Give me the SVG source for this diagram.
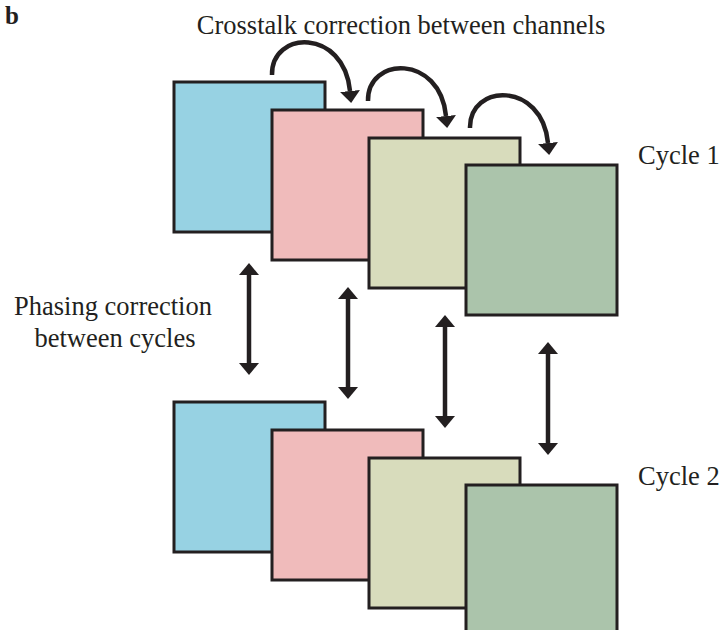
<svg xmlns="http://www.w3.org/2000/svg" width="726" height="630" viewBox="0 0 726 630">
  <defs>
    <style>
      .sq { stroke: #231f20; stroke-width: 3; }
      .blue { fill: #97d2e3; }
      .pink { fill: #f0bbbb; }
      .beige { fill: #d8dcbc; }
      .green { fill: #abc4ab; }
      .conn { fill: none; stroke: #231f20; stroke-width: 4.5; }
      .lbl { font-family: "Liberation Serif", "Times New Roman", serif; font-size: 26.5px; fill: #231f20; }
    </style>
    <marker id="ah" markerUnits="userSpaceOnUse" viewBox="0 -10 12 20" refX="0" refY="0" markerWidth="12" markerHeight="20" orient="auto-start-reverse">
      <path d="M0,-10 L12,0 L0,10 Z" fill="#231f20"/>
    </marker>
  </defs>
  <rect width="726" height="630" fill="#ffffff"/>

  <text class="lbl" x="5" y="24" font-weight="bold" style="font-size:25px">b</text>

  <g id="cycle1">
    <g id="c1-blue"><rect class="sq blue" x="174" y="82" width="151" height="150"/></g>
    <g id="c1-pink"><rect class="sq pink" x="272" y="110" width="151" height="150"/></g>
    <g id="c1-beige"><rect class="sq beige" x="369" y="138" width="151" height="150"/></g>
    <g id="c1-green"><rect class="sq green" x="466" y="165" width="151" height="150"/></g>
  </g>

  <g id="cycle2">
    <g id="c2-blue"><rect class="sq blue" x="174" y="402" width="151" height="150"/></g>
    <g id="c2-pink"><rect class="sq pink" x="272" y="430" width="151" height="150"/></g>
    <g id="c2-beige"><rect class="sq beige" x="369" y="458" width="151" height="150"/></g>
    <g id="c2-green"><rect class="sq green" x="466" y="485" width="151" height="150"/></g>
  </g>

  <g id="connectors">
    <path class="conn" d="M272,75 C271,30 344,28 350,91" marker-end="url(#ah)"/>
    <path class="conn" d="M368,101 C367,56 440,54 446,116" marker-end="url(#ah)"/>
    <path class="conn" d="M470,128 C469,83 542,81 548,143" marker-end="url(#ah)"/>

    <path class="conn" d="M249,275 L249,363" marker-start="url(#ah)" marker-end="url(#ah)"/>
    <path class="conn" d="M348,299 L348,387" marker-start="url(#ah)" marker-end="url(#ah)"/>
    <path class="conn" d="M445,327 L445,416" marker-start="url(#ah)" marker-end="url(#ah)"/>
    <path class="conn" d="M548,354 L548,443" marker-start="url(#ah)" marker-end="url(#ah)"/>
  </g>

  <g id="labels">
    <text class="lbl" x="401" y="34" text-anchor="middle">Crosstalk correction between channels</text>
    <text class="lbl" x="113" y="315" text-anchor="middle">Phasing correction</text>
    <text class="lbl" x="115" y="347" text-anchor="middle">between cycles</text>
    <text class="lbl" x="638" y="164">Cycle 1</text>
    <text class="lbl" x="638" y="485">Cycle 2</text>
  </g>
</svg>
